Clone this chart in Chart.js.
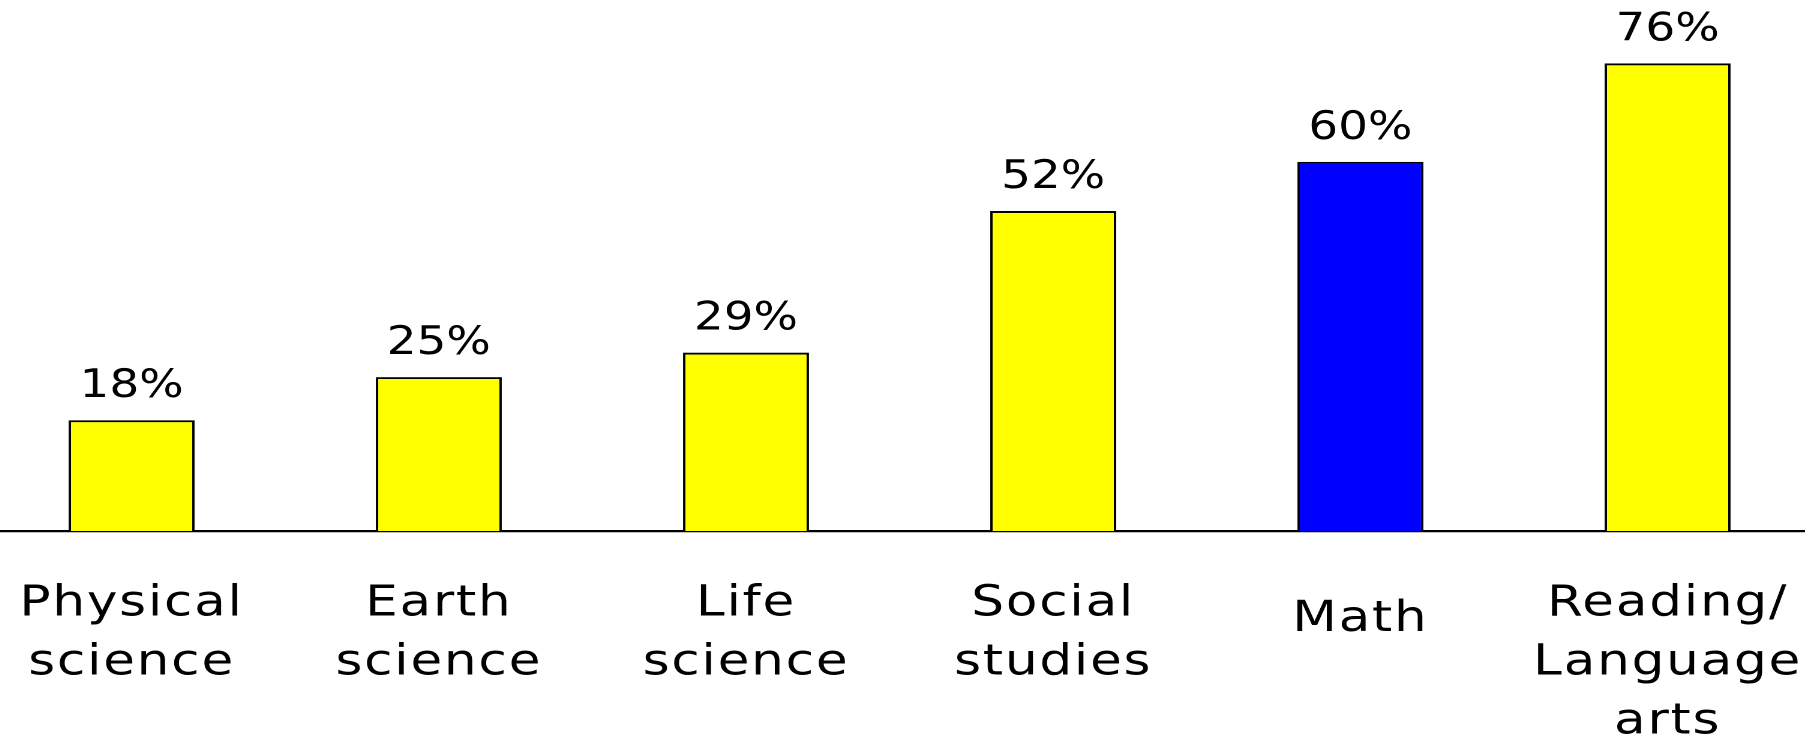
<!DOCTYPE html>
<html>
<head>
<meta charset="utf-8">
<script src="https://cdn.jsdelivr.net/npm/chart.js@4/dist/chart.umd.min.js"></script>
<style>
  html, body { margin: 0; padding: 0; background: #ffffff; overflow: hidden; }
  body { width: 1805px; height: 738px; position: relative; }
  /* the drawing is laid out narrow and widened 1.2x, which gives the broad lettering */
  #wrap {
    position: absolute; left: -21.8px; top: 0;
    width: 1536px; height: 738px;
    transform: scaleX(1.2); transform-origin: 0 0;
  }
</style>
</head>
<body>
<div id="wrap"><canvas id="chart" width="1536" height="738"></canvas></div>
<script>
// Share of teachers per subject area
const categories = [
  ['Physical', 'science'],
  ['Earth', 'science'],
  ['Life', 'science'],
  ['Social', 'studies'],
  'Math',
  ['Reading/', 'Language', 'arts']
];
const percentValues = [18, 25, 29, 52, 60, 76];
const barColors = ['#ffff00', '#ffff00', '#ffff00', '#ffff00', '#0000ff', '#ffff00'];

const FONT_FAMILY = '"DejaVu Sans", Verdana, sans-serif';

// Percent labels drawn above each bar from the bar elements
const valueLabels = {
  id: 'valueLabels',
  beforeDraw(chart) {
    chart.ctx.letterSpacing = '1.5px';
  },
  afterDatasetsDraw(chart) {
    const ctx = chart.ctx;
    const meta = chart.getDatasetMeta(0);
    ctx.save();
    ctx.letterSpacing = '0px';
    ctx.font = '39px ' + FONT_FAMILY;
    ctx.fillStyle = '#000000';
    ctx.textAlign = 'center';
    ctx.textBaseline = 'alphabetic';
    meta.data.forEach((bar, i) => {
      ctx.fillText(percentValues[i] + '%', bar.x, bar.y - 23);
    });
    ctx.restore();
  }
};

new Chart(document.getElementById('chart'), {
  type: 'bar',
  data: {
    labels: categories,
    datasets: [{
      data: percentValues,
      backgroundColor: barColors,
      borderColor: '#000000',
      borderWidth: 2,
      borderSkipped: 'bottom',
      categoryPercentage: 1,
      barPercentage: 0.41
    }]
  },
  options: {
    responsive: false,
    maintainAspectRatio: false,
    devicePixelRatio: 2,
    animation: false,
    layout: { padding: 0 },
    plugins: { legend: { display: false }, tooltip: { enabled: false } },
    scales: {
      x: {
        offset: true,
        // hidden tick marks only reserve the gap above the labels
        grid: { display: false, drawTicks: true, tickLength: 44 },
        border: { display: true, color: '#000000', width: 2.3 },
        ticks: {
          autoSkip: false,
          maxRotation: 0,
          minRotation: 0,
          padding: 0,
          color: '#000000',
          font: (c) => ({
            family: FONT_FAMILY,
            size: 43,
            lineHeight: c.index === 4 ? '90px' : '59px'
          })
        },
        afterFit: (scale) => { scale.height = 207; }
      },
      y: {
        display: false,
        min: 0,
        max: 86.3
      }
    }
  },
  plugins: [valueLabels]
});
</script>
</body>
</html>
